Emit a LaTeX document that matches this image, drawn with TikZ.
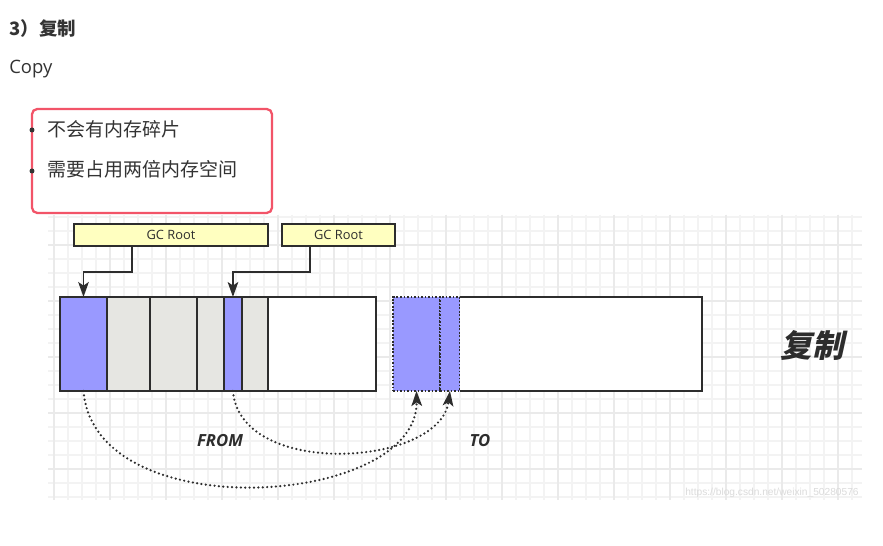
\documentclass[tikz,border=0pt]{standalone}
\usepackage{fontspec}
\usepackage{tikz}
\usetikzlibrary{arrows.meta}
\setmainfont{Open Sans}
\newfontfamily\cjk{Noto Sans CJK SC}
\newfontfamily\cjkslant{Noto Sans CJK SC}[FakeSlant=0.22]
\newfontfamily\wmfont{Liberation Sans}
\definecolor{ink}{RGB}{51, 51, 51}
\definecolor{edge}{RGB}{45, 45, 45}
\definecolor{cellblue}{RGB}{153, 153, 255}
\definecolor{cellgrey}{RGB}{230, 230, 226}
\definecolor{rootyellow}{RGB}{255, 255, 192}
\definecolor{framered}{RGB}{242, 84, 104}
\definecolor{gridlight}{RGB}{243, 243, 243}
\definecolor{griddark}{RGB}{234, 234, 234}

\tikzset{
  cell/.style={draw=edge, line width=1.1pt, inner sep=0pt, outer sep=0pt,
    minimum height=1.88cm, anchor=north west},
  dotcell/.style={cell, fill=cellblue, line width=0.8pt, dash pattern=on 1pt off 1pt},
  root/.style={draw=edge, line width=1pt, fill=rootyellow, inner sep=0pt,
    minimum height=0.44cm, font=\fontsize{7.3}{8}\selectfont, text=edge},
  ptr/.style={edge, line width=1pt, -{Stealth[length=8.5pt, width=6pt, inset=2pt]}},
  copyarc/.style={edge, line width=1.4pt, line cap=round, dash pattern=on 0pt off 2.5pt,
    -{Stealth[length=8.5pt, width=6pt, inset=2pt]}},
  tag/.style={font=\fontsize{9.5}{11}\selectfont\bfseries\itshape, text=edge},
  item/.style={anchor=west, inner sep=0pt, text=ink, font={\fontsize{10.8}{12}\cjk}},
  bullet/.style={circle, fill=ink, inner sep=0pt, minimum size=0.1cm}
}

\begin{document}
\begin{tikzpicture}[x=0.02cm, y=-0.02cm]
  \useasboundingbox[fill=white] (0, 0) rectangle (883, 546);

  % heading and list
  \node[anchor=west, inner sep=0pt, text=ink, font={\fontsize{10.5}{12}\cjk\bfseries}] (title) at (9, 28) {3）复制};
  \node[anchor=west, inner sep=0pt, text=ink, font=\fontsize{10.5}{12}\selectfont] (copy) at (9, 69) {Copy};

  \draw[framered, line width=1.3pt, rounded corners=3] (32, 109) rectangle (272, 213);
  \node[bullet] (dot1) at (32, 130) {};
  \node[item] (pt1) at (47, 129) {不会有内存碎片};
  \node[bullet] (dot2) at (32, 171) {};
  \node[item] (pt2) at (47, 169) {需要占用两倍内存空间};

  % grid paper
  \foreach \x in {54, 68, ..., 852}
    \draw[gridlight, line width=0.6pt] (\x, 215) -- (\x, 500);
  \foreach \y in {217, 231, ..., 497}
    \draw[gridlight, line width=0.6pt] (48, \y) -- (862, \y);
  \foreach \x in {54, 110, ..., 838}
    \draw[griddark, line width=0.7pt] (\x, 215) -- (\x, 500);
  \foreach \y in {245, 301, ..., 469}
    \draw[griddark, line width=0.7pt] (48, \y) -- (862, \y);

  % roots
  \node[root, minimum width=3.88cm] (gc1) at (171, 235) {GC Root};
  \node[root, minimum width=2.26cm] (gc2) at (338.5, 235) {GC Root};

  % from space
  \node[cell, fill=cellblue, minimum width=0.94cm] (f1) at (60, 297) {};
  \node[cell, fill=cellgrey, minimum width=0.86cm] (f2) at (f1.north east) {};
  \node[cell, fill=cellgrey, minimum width=0.94cm] (f3) at (f2.north east) {};
  \node[cell, fill=cellgrey, minimum width=0.54cm] (f4) at (f3.north east) {};
  \node[cell, fill=cellblue, minimum width=0.36cm] (f5) at (f4.north east) {};
  \node[cell, fill=cellgrey, minimum width=0.52cm] (f6) at (f5.north east) {};
  \node[cell, fill=white, minimum width=2.16cm] (f7) at (f6.north east) {};

  % to space
  \node[dotcell, minimum width=0.94cm] (t1) at (393, 297) {};
  \node[dotcell, minimum width=0.40cm] (t2) at (t1.north east) {};
  \node[cell, draw=none, fill=white, minimum width=4.84cm] (t3) at (t2.north east) {};
  \draw[edge, line width=1.1pt] (t3.north west) -- (t3.north east) -- (t3.south east) -- (t3.south west);

  \draw[ptr] ([xshift=1.18cm]gc1.south west) -- ++(0, 25) -| (f1.north);
  \draw[ptr] ([xshift=0.58cm]gc2.south west) -- ++(0, 25) -| (f5.north);

  \draw[copyarc] (f1.south) .. controls +(11, 138) and +(2, 116) .. (t1.south);
  \draw[copyarc] (f5.south) .. controls +(7, 88) and +(-10, 76) .. (t2.south);

  \node[tag] (from) at (220, 441) {FROM};
  \node[tag] (to) at (480, 441) {TO};
  \node[text=edge, font={\fontsize{18}{20}\cjkslant\bfseries}] (copytag) at (812, 345) {复制};

  \node[anchor=east, inner sep=0pt, text=black!14, font={\fontsize{5.8}{7}\wmfont}] (mark) at (859, 493) {https://blog.csdn.net/weixin\_50280576};
\end{tikzpicture}
\end{document}
